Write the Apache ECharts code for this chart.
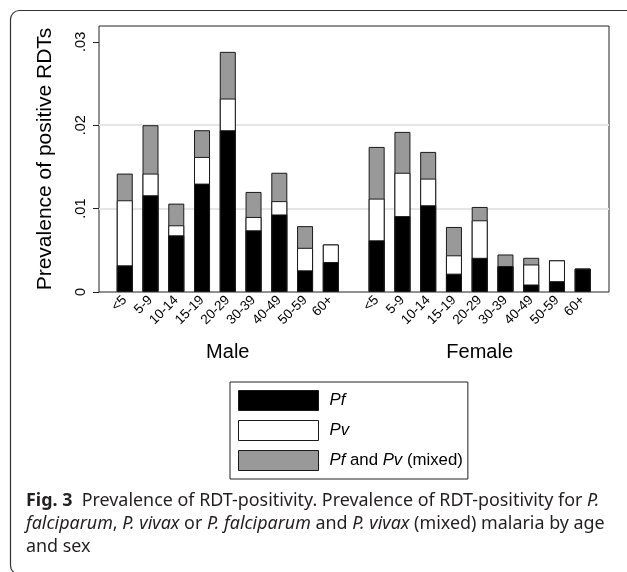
<!DOCTYPE html>
<html>
<head>
<meta charset="utf-8">
<script src="https://cdn.jsdelivr.net/npm/echarts@6/dist/echarts.min.js"></script>
<style>
  html, body { margin: 0; padding: 0; background: #fff; }
  #chart { width: 627px; height: 572px; }
</style>
</head>
<body>
<div id="chart"></div>
<script>
// age groups on the x axis, repeated for each sex
const ageGroups = ['<5', '5-9', '10-14', '15-19', '20-29', '30-39', '40-49', '50-59', '60+'];
const sexes = ['Male', 'Female'];

// prevalence of positive RDTs, by parasite
const malePf = [0.0032, 0.0116, 0.0068, 0.0130, 0.0194, 0.0074, 0.0093, 0.0026, 0.0036];
const malePv = [0.0078, 0.0026, 0.0012, 0.0032, 0.0038, 0.0016, 0.0016, 0.0027, 0.0021];
const maleMixed = [0.0032, 0.0058, 0.0026, 0.0032, 0.0056, 0.0030, 0.0034, 0.0026, 0];
const femalePf = [0.0062, 0.0091, 0.0104, 0.0022, 0.0041, 0.0031, 0.0009, 0.0013, 0.0028];
const femalePv = [0.0050, 0.0052, 0.0032, 0.0022, 0.0045, 0, 0.0024, 0.0025, 0];
const femaleMixed = [0.0062, 0.0049, 0.0032, 0.0034, 0.0016, 0.0014, 0.0008, 0, 0];

const yTicks = [0, 0.01, 0.02, 0.03];
const seriesNames = ['Pf', 'Pv', 'Pf and Pv (mixed)'];

// slot layout along the x axis (one unit per bar, a wider gap between sexes)
const femaleStart = 10.78;
const xMax = 19.8;
const slot = (g, i) => (g === 0 ? 1 + i : femaleStart + i);
const groupCenter = g => (slot(g, 0) + slot(g, ageGroups.length - 1)) / 2;

const pf = [malePf, femalePf];
const pv = [malePv, femalePv];
const mixed = [maleMixed, femaleMixed];

// bars drawn over each other from the base, so each one reaches its cumulative height
function cumul(level) {
  const out = [];
  for (let g = 0; g < 2; g++) {
    for (let i = 0; i < ageGroups.length; i++) {
      let v = pf[g][i];
      if (level > 0) v += pv[g][i];
      if (level > 1) v += mixed[g][i];
      out.push([slot(g, i), +v.toFixed(5)]);
    }
  }
  return out;
}

const labelPos = [];
const labelText = [];
for (let g = 0; g < 2; g++) {
  ageGroups.forEach((a, i) => { labelPos.push(slot(g, i)); labelText.push(a); });
}
function nearest(list, v) {
  let best = 0;
  list.forEach((p, k) => { if (Math.abs(p - v) < Math.abs(list[best] - v)) best = k; });
  return best;
}

const FONT = 'Liberation Sans';
const CAP = 'Noto Sans';
const chart = echarts.init(document.getElementById('chart'));

const barBase = {
  type: 'bar',
  barWidth: 16,
  barGap: '-100%',
  itemStyle: { borderColor: '#1a1a1a', borderWidth: 1 },
  emphasis: { disabled: true }
};

const option = {
  animation: false,
  backgroundColor: '#fff',
  grid: {
    left: 99, top: 26, width: 510, height: 266,
    show: true, borderColor: '#222', borderWidth: 1
  },
  xAxis: [
    {
      type: 'value', min: 0, max: xMax,
      axisLine: { show: false }, axisTick: { show: false }, splitLine: { show: false },
      axisLabel: {
        customValues: labelPos,
        formatter: v => labelText[nearest(labelPos, v)],
        rotate: 45, margin: 6, fontSize: 13.5, color: '#000', fontFamily: FONT
      }
    },
    {
      type: 'value', min: 0, max: xMax, position: 'bottom',
      axisLine: { show: false }, axisTick: { show: false }, splitLine: { show: false },
      axisLabel: {
        customValues: [groupCenter(0), groupCenter(1)],
        formatter: v => sexes[nearest([groupCenter(0), groupCenter(1)], v)],
        margin: 50, fontSize: 20, color: '#000', fontFamily: FONT
      }
    }
  ],
  yAxis: {
    type: 'value', min: 0, max: 0.0319, interval: 0.01,
    name: 'Prevalence of positive RDTs',
    nameLocation: 'middle', nameGap: 43,
    nameTextStyle: { fontSize: 21, color: '#000', fontFamily: FONT },
    axisLine: { show: false },
    axisTick: { show: true, length: 6, customValues: yTicks, lineStyle: { color: '#222' } },
    axisLabel: {
      customValues: yTicks,
      formatter: v => (v === 0 ? '0' : v.toFixed(2).replace(/^0/, '')),
      rotate: 90, margin: 11, fontSize: 14.5, color: '#000', fontFamily: FONT
    },
    splitLine: {
      show: true, showMinLine: false, showMaxLine: false,
      lineStyle: { color: '#e6e6e6', width: 2 }
    }
  },
  legend: {
    data: seriesNames,
    orient: 'vertical',
    left: 230, top: 382,
    itemWidth: 80, itemHeight: 20, itemGap: 9,
    padding: [8, 5, 8, 8],
    borderColor: '#222', borderWidth: 1,
    icon: 'rect',
    itemStyle: { borderColor: '#1a1a1a', borderWidth: 1 },
    selectedMode: false,
    formatter: name => name === 'Pf and Pv (mixed)' ? '{i|Pf} and {i|Pv} (mixed)' : '{i|' + name + '}',
    textStyle: {
      fontSize: 16.8, color: '#000', fontFamily: FONT, padding: [0, 0, 0, 6],
      rich: { i: { fontStyle: 'italic', fontSize: 16.8, fontFamily: FONT, color: '#000' } }
    }
  },
  series: [
    Object.assign({}, barBase, { name: seriesNames[2], data: cumul(2), itemStyle: Object.assign({}, barBase.itemStyle, { color: '#999999' }) }),
    Object.assign({}, barBase, { name: seriesNames[1], data: cumul(1), itemStyle: Object.assign({}, barBase.itemStyle, { color: '#ffffff' }) }),
    Object.assign({}, barBase, { name: seriesNames[0], data: cumul(0), itemStyle: Object.assign({}, barBase.itemStyle, { color: '#000000' }) })
  ],
  graphic: [
    {
      type: 'rect', silent: true,
      shape: { x: 10.5, y: 10.5, width: 700, height: 564, r: 9 },
      style: { fill: 'none', stroke: '#333', lineWidth: 1.2 }
    },
    {
      type: 'text', left: 26, top: 489, silent: true,
      style: {
        text: '{b|Fig. 3}  Prevalence of RDT-positivity. Prevalence of RDT-positivity for {i|P.}\n' +
              '{i|falciparum}, {i|P. vivax} or {i|P. falciparum} and {i|P. vivax} (mixed) malaria by age\n' +
              'and sex',
        font: '17.9px "' + CAP + '"',
        fill: '#231f20',
        lineHeight: 23,
        rich: {
          b: { fontWeight: 'bold', fontSize: 17.9, fontFamily: CAP, lineHeight: 23, fill: '#231f20' },
          i: { fontStyle: 'italic', fontSize: 17.9, fontFamily: CAP, lineHeight: 23, fill: '#231f20' }
        }
      }
    }
  ]
};

chart.setOption(option);
</script>
</body>
</html>
